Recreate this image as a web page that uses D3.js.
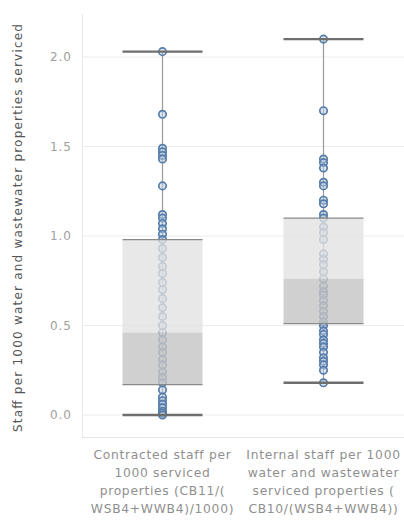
<!DOCTYPE html>
<html><head><meta charset="utf-8">
<script src="https://cdn.jsdelivr.net/npm/d3@7"></script>
<style>body{margin:0;background:#fff;}svg{display:block;font-family:"DejaVu Sans",sans-serif;}</style>
</head><body>
<script>
const categories = [
  ["Contracted staff per","1000 serviced","properties (CB11/(","WSB4+WWB4)/1000)"],
  ["Internal staff per 1000","water and wastewater","serviced properties (","CB10/(WSB4+WWB4))"]
];
const contracted = [2.03,1.68,1.49,1.47,1.45,1.43,1.28,1.12,1.10,1.07,1.04,1.01,0.98,0.93,0.88,0.83,0.79,0.74,0.70,0.65,0.60,0.55,0.50,0.46,0.42,0.38,0.35,0.31,0.28,0.24,0.21,0.18,0.14,0.10,0.08,0.06,0.04,0.02,0.01,0.0];
const internal = [2.10,1.70,1.43,1.41,1.38,1.30,1.28,1.20,1.18,1.12,1.10,1.05,1.02,0.98,0.90,0.87,0.84,0.80,0.76,0.72,0.69,0.67,0.64,0.61,0.58,0.55,0.52,0.50,0.47,0.45,0.42,0.40,0.38,0.35,0.32,0.30,0.28,0.25,0.18];
const seriesValues = [contracted, internal];
// box stats: [lowWhisker, q1, median, q3, highWhisker]
const boxStats = [[0.0,0.17,0.46,0.98,2.03],[0.18,0.51,0.76,1.10,2.10]];
const yTicks = [0,0.5,1.0,1.5,2.0];

const W=404,H=523;
const svg=d3.select("body").append("svg").attr("width",W).attr("height",H);
const mLeft=82,mRight=404,mTop=14,mBottom=437;
const y=d3.scaleLinear().domain([0,2]).range([415,57]);
const x=d3.scaleBand().domain([0,1]).range([mLeft,mRight]).paddingInner(0).paddingOuter(0);
const cx=i=>x(i)+x.bandwidth()/2;
const halfW=40;

// gridlines
svg.append("g").selectAll("line").data(yTicks).join("line")
  .attr("x1",mLeft).attr("x2",mRight).attr("y1",d=>y(d)).attr("y2",d=>y(d))
  .attr("stroke","#ececec").attr("stroke-width",1);
svg.append("line").attr("x1",mLeft+0.5).attr("x2",mLeft+0.5).attr("y1",mTop).attr("y2",mBottom).attr("stroke","#eaeaea");
svg.append("line").attr("x1",mLeft).attr("x2",mRight).attr("y1",mBottom+0.5).attr("y2",mBottom+0.5).attr("stroke","#e6e6e6");

// y axis
const ya=svg.append("g").attr("transform",`translate(${mLeft},0)`).call(d3.axisLeft(y).tickValues(yTicks).tickFormat(d3.format(".1f")).tickSize(0).tickPadding(10));
ya.select(".domain").remove();
ya.selectAll("text").attr("fill","#a0a0a0").style("font-size","12px").style("letter-spacing","1px").style("font-family","'DejaVu Sans',sans-serif");

svg.append("text").attr("transform",`translate(22,228) rotate(-90)`).attr("text-anchor","middle")
  .attr("fill","#555").style("font-size","12px").attr("textLength",408).attr("lengthAdjust","spacing")
  .text("Staff per 1000 water and wastewater properties serviced");

// whisker vertical lines
const g=svg.append("g");
g.selectAll(".wl").data(boxStats).join("line")
  .attr("x1",(d,i)=>cx(i)).attr("x2",(d,i)=>cx(i)).attr("y1",d=>y(d[4])).attr("y2",d=>y(d[0]))
  .attr("stroke","#9a9a9a").attr("stroke-width",1.2);

// points
seriesValues.forEach((vals,i)=>{
  g.append("g").selectAll("circle").data(vals).join("circle")
    .attr("cx",cx(i)).attr("cy",d=>y(d)).attr("r",3.7)
    .attr("fill","#b9cde3").attr("fill-opacity",0.5)
    .attr("stroke","#567ca9").attr("stroke-width",1.7);
});

// boxes (semi-transparent over points)
g.selectAll(".bu").data(boxStats).join("rect")
  .attr("x",(d,i)=>cx(i)-halfW).attr("width",halfW*2)
  .attr("y",d=>y(d[3])).attr("height",d=>y(d[2])-y(d[3]))
  .attr("fill","#e2e2e2").attr("fill-opacity",0.78);
g.selectAll(".bl").data(boxStats).join("rect")
  .attr("x",(d,i)=>cx(i)-halfW).attr("width",halfW*2)
  .attr("y",d=>y(d[2])).attr("height",d=>y(d[1])-y(d[2]))
  .attr("fill","#c4c4c4").attr("fill-opacity",0.8);
// box borders q1/q3
[1,3].forEach(k=>{
  g.append("g").selectAll("line").data(boxStats).join("line")
    .attr("x1",(d,i)=>cx(i)-halfW).attr("x2",(d,i)=>cx(i)+halfW)
    .attr("y1",d=>y(d[k])).attr("y2",d=>y(d[k])).attr("stroke","#8a8a8a").attr("stroke-width",1.3);
});
// whisker caps
[0,4].forEach(k=>{
  g.append("g").selectAll("line").data(boxStats).join("line")
    .attr("x1",(d,i)=>cx(i)-halfW).attr("x2",(d,i)=>cx(i)+halfW)
    .attr("y1",d=>y(d[k])).attr("y2",d=>y(d[k])).attr("stroke","#6e6e6e").attr("stroke-width",2.4);
});

// x labels
categories.forEach((lines,i)=>{
  const t=svg.append("text").attr("text-anchor","middle").attr("fill","#8f8f8f").style("font-size","12.3px").style("letter-spacing","0.7px");
  lines.forEach((l,j)=>t.append("tspan").attr("x",cx(i)).attr("y",459+j*18).text(l));
});
</script>
</body></html>
